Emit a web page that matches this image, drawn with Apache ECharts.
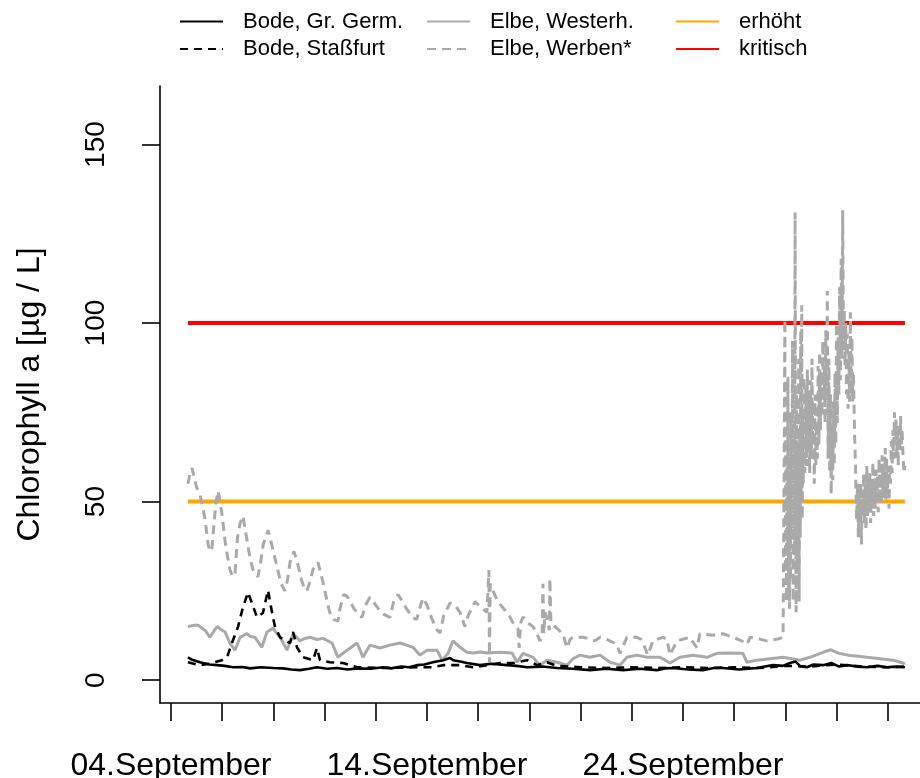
<!DOCTYPE html>
<html>
<head>
<meta charset="utf-8">
<script src="https://cdn.jsdelivr.net/npm/echarts@6/dist/echarts.min.js"></script>
<style>html,body{margin:0;padding:0;background:#fff}#c{width:920px;height:778px}</style>
</head>
<body>
<div id="c"></div>
<script>
// x values are days since 04.September 00:00
const xTickDays = [0,2,4,6,8,10,12,14,16,18,20,22,24,26,28];
const xLabelDays = [0,10,20];
const xLabelTexts = ['04.September','14.September','24.September'];
const yTicks = [0,50,100,150];
const seriesNames = ['Bode, Gr. Germ.','Bode, Staßfurt','Elbe, Westerh.','Elbe, Werben*','erhöht','kritisch'];

const bodeGrGerm = [[0.66,6.4],[0.8,5.8],[1.13,5],[1.5,4.4],[1.8,4.2],[2.1,4.0],[2.42,3.6],[2.8,3.7],[3.09,3.3],[3.5,3.6],[4.0,3.4],[4.38,3.3],[4.7,3.0],[5.04,2.8],[5.4,3.2],[5.7,3.6],[6.1,3.2],[6.48,3.4],[6.9,3.0],[7.27,3.3],[7.8,3.2],[8.28,3.6],[8.6,3.3],[9.0,3.8],[9.3,3.6],[9.61,4.2],[9.9,4.4],[10.23,5],[10.63,5.6],[10.9,6.2],[11.02,5.6],[11.3,5.2],[11.56,4.8],[12.07,4.2],[12.5,4.6],[13.13,4.2],[13.5,4.0],[13.91,3.6],[14.5,3.8],[15.08,3.4],[15.7,3.2],[16.37,2.8],[17.0,3.2],[17.66,2.8],[18.3,3.2],[18.98,2.8],[19.3,3.3],[19.61,3.4],[20.2,3.0],[20.78,2.8],[21.2,3.4],[21.56,3.4],[22.2,3.0],[22.89,3.4],[23.2,3.8],[23.52,4.2],[23.9,4.0],[24.18,4.8],[24.4,5.2],[24.6,3.8],[24.84,3.6],[25.1,4.4],[25.47,4.2],[25.8,4.8],[26.1,3.8],[26.41,4.2],[26.8,3.8],[27.19,3.6],[27.6,4.0],[27.97,3.6],[28.3,3.8],[28.67,3.6]];

const bodeStassfurt = [[0.66,5],[1.13,4.2],[1.5,4.6],[1.99,5.6],[2.19,6.4],[2.38,10.4],[2.62,15],[2.81,20.4],[3.01,24.6],[3.16,21.6],[3.36,17.6],[3.59,18.8],[3.79,25.2],[3.95,18.8],[4.06,15],[4.26,12],[4.65,10.4],[4.77,13.5],[4.92,9.2],[5.16,6.4],[5.55,5.6],[5.7,9],[5.82,5.6],[6.21,5],[6.72,4.8],[7.27,3.6],[8.28,3.4],[9.61,3.6],[10.23,3.6],[10.63,4.2],[11.29,4.2],[11.8,3.6],[12.34,4.2],[12.85,4.8],[13.36,4.8],[13.91,5.6],[14.3,4.2],[14.69,5],[15.08,4],[16.0,3.6],[17.0,3.4],[18.0,3.6],[19.0,3.4],[20.0,3.6],[21.0,3.4],[22.0,3.6],[23.0,3.4],[24.0,4],[25.0,3.8],[26.0,4.4],[27.0,3.8],[28.0,3.6],[28.67,3.8]];

const elbeWesterh = [[0.66,15],[0.9,15.4],[1.05,15.4],[1.2,14.6],[1.33,14],[1.52,12],[1.7,14],[1.8,15],[1.95,14.2],[2.11,13.5],[2.3,10.4],[2.5,8.4],[2.7,12],[2.85,12.6],[2.97,13],[3.1,12.2],[3.28,12],[3.55,9.2],[3.75,13.5],[3.98,14.5],[4.1,13.4],[4.26,12],[4.53,8.4],[4.77,13],[5.04,11],[5.2,11.6],[5.43,12],[5.7,11.4],[5.94,11.7],[6.29,10.4],[6.52,6.4],[6.88,8.4],[7.27,10.4],[7.5,6.4],[7.77,9.8],[8.16,9],[8.55,9.8],[8.95,10.4],[9.2,9.8],[9.45,9.2],[9.73,7],[10.0,8.4],[10.39,8.4],[10.59,5.6],[10.82,7.5],[11.02,11],[11.29,9.2],[11.56,7.8],[11.8,7.6],[12.1,7.9],[12.34,7.6],[12.85,7.8],[13.32,7.6],[13.52,5],[13.75,7.5],[14.14,6.4],[14.41,4.2],[14.69,5.6],[15.08,5],[15.47,4.2],[15.7,6],[15.98,7],[16.37,6.4],[16.76,7],[17.15,5],[17.54,4.2],[17.81,6.4],[18.2,7],[18.59,6.4],[19.1,6.4],[19.49,4.8],[19.88,6.4],[20.39,7],[20.94,6.4],[21.33,7.5],[21.84,7.6],[22.34,7.5],[22.5,5],[22.89,5.6],[23.4,6],[23.91,6.4],[24.57,5.6],[24.96,6.4],[25.47,7.8],[25.78,8.5],[26.09,7.5],[26.48,7],[27.19,6.4],[27.7,6],[28.2,5.6],[28.59,4.8],[28.67,4.5]];

const elbeWerben = [[0.66,55],[0.75,58],[0.82,59.4],[0.9,57],[1.0,54],[1.13,52],[1.25,48],[1.33,45],[1.45,38],[1.52,36],[1.6,37],[1.68,44],[1.76,50],[1.84,53],[1.92,50],[2.0,46],[2.11,39],[2.2,35],[2.3,31],[2.4,29],[2.5,30],[2.6,40],[2.7,44],[2.81,46],[2.9,42],[3.0,38],[3.09,34],[3.2,31],[3.3,29.5],[3.4,29],[3.5,33],[3.6,38],[3.7,40],[3.79,42],[3.9,39],[4.0,36],[4.1,33],[4.2,30],[4.3,27],[4.45,25],[4.55,28],[4.65,33],[4.8,36],[4.9,34],[5.0,31],[5.1,28],[5.2,26],[5.31,25],[5.4,27],[5.55,31],[5.74,33],[5.85,30],[5.95,27],[6.1,22],[6.2,19],[6.35,17],[6.52,16.5],[6.6,20],[6.75,24],[6.88,23.5],[7.0,22],[7.15,20],[7.3,18.5],[7.46,17.6],[7.6,21],[7.77,23.2],[7.9,22],[8.1,20],[8.3,18.5],[8.55,17.6],[8.7,22],[8.87,24],[9.0,22.5],[9.2,20],[9.45,17.5],[9.6,17],[9.75,21],[9.84,23],[10.0,21],[10.2,17],[10.4,14],[10.51,13.2],[10.65,18],[10.9,21.6],[11.1,21],[11.29,19],[11.48,15],[11.6,18],[11.88,22],[12.1,20.5],[12.34,19],[12.40,19],[12.42,30.8],[12.44,5],[12.47,27],[12.58,25],[12.77,22],[13.0,20],[13.24,17.7],[13.4,15.5],[13.55,14.5],[13.6,9],[13.66,16],[13.75,17.7],[13.95,16],[14.14,15],[14.3,13],[14.41,11],[14.5,12],[14.53,27],[14.56,13],[14.61,19],[14.7,17],[14.78,14],[14.80,28.5],[14.84,16],[15.0,15],[15.31,13],[15.47,9],[15.6,11.5],[15.7,12],[16.09,12],[16.4,11.5],[16.56,11],[16.76,12],[17.0,11.5],[17.42,10],[17.54,7.5],[17.81,12],[18.2,12],[18.35,11.5],[18.52,9],[18.63,7],[18.83,11],[19.2,12],[19.38,11.5],[19.49,7],[19.77,11],[20.27,12],[20.45,10],[20.55,9],[20.66,13],[21.17,12.6],[21.56,13],[21.95,12],[22.3,11],[22.5,10],[22.62,12],[23.0,11.5],[23.28,11],[23.7,11.5],[23.91,12],
[23.95,56],[23.98,101],[24.00,30],[24.02,70],[24.04,22],[24.06,60],[24.08,35],[24.10,85],[24.12,25],[24.14,65],[24.16,20],[24.18,55],[24.20,28],[24.22,75],[24.25,40],[24.28,95],[24.30,22],[24.33,70],[24.36,35],[24.38,131],[24.40,60],[24.42,19],[24.44,80],[24.46,30],[24.48,65],[24.50,45],[24.52,90],[24.54,22],[24.56,70],[24.58,40],[24.60,98],[24.62,50],[24.64,105],[24.66,45],[24.68,75],[24.70,55],[24.73,85],[24.76,58],[24.80,82],[24.83,60],[24.86,87],[24.89,64],[24.92,80],[24.95,58],[24.98,84],[25.01,62],[25.04,90],[25.07,66],[25.10,78],[25.13,55],[25.16,80],[25.19,60],[25.22,72],[25.25,62],[25.28,88],[25.31,66],[25.34,92],[25.37,70],[25.40,86],[25.43,74],[25.46,95],[25.49,78],[25.52,88],[25.55,72],[25.58,98],[25.61,80],[25.64,109],[25.67,62],[25.70,90],[25.73,58],[25.76,80],[25.79,52],[25.82,72],[25.85,56],[25.88,78],[25.91,60],[25.94,86],[25.97,66],[26.00,100],[26.03,72],[26.06,96],[26.09,80],[26.12,110],[26.15,84],[26.18,118],[26.21,90],[26.24,131.6],[26.27,95],[26.30,104],[26.33,88],[26.36,100],[26.39,80],[26.42,97],[26.45,76],[26.48,92],[26.51,78],[26.54,103],[26.57,80],[26.60,96],[26.63,78],[26.66,86],[26.70,70],[26.74,60],[26.78,45],[26.82,55],[26.85,40],[26.88,52],[26.91,44],[26.94,55],[26.97,38],[27.00,50],[27.03,46],[27.06,58],[27.09,44],[27.12,55],[27.15,42],[27.18,60],[27.21,46],[27.24,57],[27.27,47],[27.30,58],[27.33,44],[27.36,55],[27.39,48],[27.42,61],[27.45,46],[27.48,56],[27.51,48],[27.54,59],[27.57,50],[27.60,57],[27.63,47],[27.66,62],[27.69,50],[27.72,58],[27.75,49],[27.78,63],[27.81,51],[27.84,60],[27.87,52],[27.90,65],[27.93,50],[27.96,62],[27.99,53],[28.02,58],[28.05,48],[28.08,60],[28.11,55],[28.14,67],[28.17,58],[28.20,70],[28.23,62],[28.26,75],[28.29,66],[28.32,73],[28.35,62],[28.38,70],[28.41,60],[28.44,72],[28.47,64],[28.50,74],[28.53,66],[28.56,70],[28.60,62],[28.64,58],[28.67,60]];

const erhoeht = [[0.66,50],[28.67,50]];
const kritisch = [[0.66,100],[28.67,100]];

const FONT = 'Liberation Sans, Arial, sans-serif';
const chart = echarts.init(document.getElementById('c'), null, {renderer:'canvas'});

function legendBlock(names, left){
  return {
    data: names, left: left, top: 10.5, orient: 'vertical', padding: 0,
    itemWidth: 43, itemHeight: 10, itemGap: 5.6,
    lineStyle: {width: 2},
    itemStyle: {opacity: 0, color: 'rgba(0,0,0,0)', borderWidth: 0},
    textStyle: {fontFamily: FONT, fontSize: 22, color: '#000', lineHeight: 22, padding: [0,0,0,15]},
    selectedMode: false
  };
}

const option = {
  animation: false,
  backgroundColor: '#fff',
  legend: [
    legendBlock([seriesNames[0], seriesNames[1]], 179),
    legendBlock([seriesNames[2], seriesNames[3]], 426),
    legendBlock([seriesNames[4], seriesNames[5]], 675)
  ],
  grid: {left: 160, top: 86, right: 0, bottom: 75, containLabel: false, outerBoundsMode: 'none'},
  xAxis: {
    type: 'value', min: -0.43, max: 29.26,
    splitLine: {show: false},
    axisLine: {show: true, onZero: false, lineStyle: {color: '#000', width: 1.6}},
    axisTick: {show: true, customValues: xTickDays, length: 18, lineStyle: {color: '#000', width: 1.6}},
    axisLabel: {
      customValues: xLabelDays, margin: 47,
      formatter: v => { const i = xLabelDays.indexOf(v); return i >= 0 ? xLabelTexts[i] : ''; },
      fontFamily: FONT, fontSize: 32, color: '#000'
    }
  },
  yAxis: {
    type: 'value', min: -6.4, max: 166.4,
    name: 'Chlorophyll a [µg / L]', nameLocation: 'middle', nameGap: 114, nameRotate: 90,
    nameTextStyle: {fontFamily: FONT, fontSize: 32, color: '#000'},
    splitLine: {show: false},
    axisLine: {show: true, onZero: false, lineStyle: {color: '#000', width: 1.6}},
    axisTick: {show: true, customValues: yTicks, length: 18, lineStyle: {color: '#000', width: 1.6}},
    axisLabel: {customValues: yTicks, rotate: 90, margin: 50, fontFamily: FONT, fontSize: 28, color: '#000'}
  },
  series: [
    {name: seriesNames[0], type: 'line', data: bodeGrGerm, symbol: 'none', z: 5,
     lineStyle: {color: '#000', width: 2.6, type: 'solid'}, itemStyle: {color: '#000'}},
    {name: seriesNames[1], type: 'line', data: bodeStassfurt, symbol: 'none', z: 5,
     lineStyle: {color: '#000', width: 2.6, type: [8, 6]}, itemStyle: {color: '#000'}},
    {name: seriesNames[2], type: 'line', data: elbeWesterh, symbol: 'none', z: 4,
     lineStyle: {color: '#A9A9A9', width: 3, type: 'solid'}, itemStyle: {color: '#A9A9A9'}},
    {name: seriesNames[3], type: 'line', data: elbeWerben, symbol: 'none', z: 4,
     lineStyle: {color: '#A9A9A9', width: 3, type: [9, 6]}, itemStyle: {color: '#A9A9A9'}},
    {name: seriesNames[4], type: 'line', data: erhoeht, symbol: 'none', z: 3,
     lineStyle: {color: '#FFA500', width: 4, type: 'solid'}, itemStyle: {color: '#FFA500'}},
    {name: seriesNames[5], type: 'line', data: kritisch, symbol: 'none', z: 3,
     lineStyle: {color: '#FF0000', width: 4, type: 'solid'}, itemStyle: {color: '#FF0000'}}
  ]
};
chart.setOption(option);
</script>
</body>
</html>
